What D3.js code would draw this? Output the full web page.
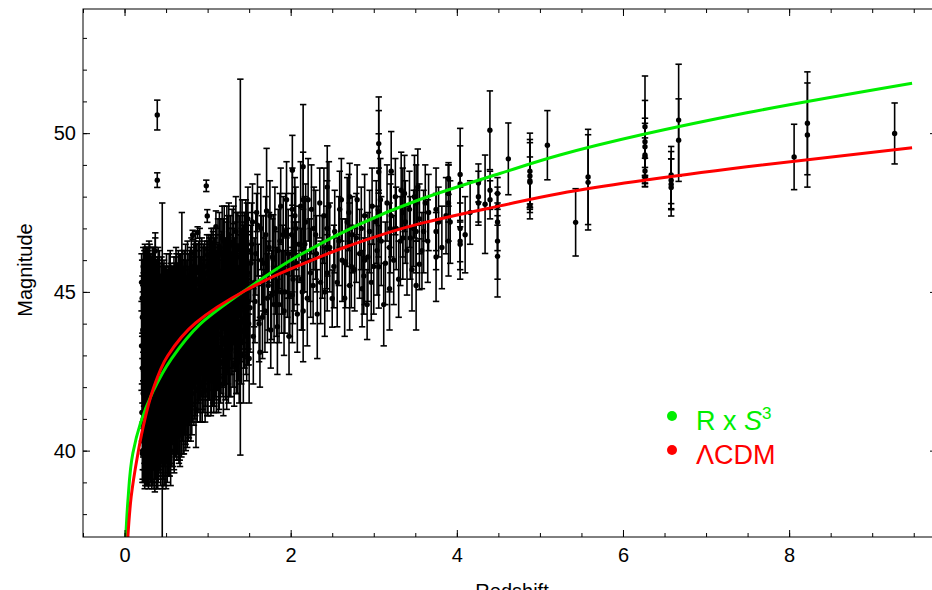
<!DOCTYPE html>
<html>
<head>
<meta charset="utf-8">
<script src="https://cdn.jsdelivr.net/npm/d3@7"></script>
<style>
  body { margin: 0; background: #fff; }
  text { font-family: "Liberation Sans", Arial, sans-serif; }
</style>
</head>
<body>
<div id="chart"></div>
<script>
// Model curves
const greenZ  = [0.015, 0.04, 0.1, 0.19, 0.34, 0.566, 0.904, 1.506, 1.747, 2.108, 3.554, 4.518, 5.24, 7.49, 9.48];
const greenMu = [37.28, 38.4, 39.92, 40.85, 41.85, 42.9, 43.97, 45.15, 45.58, 46.16, 47.91, 48.73, 49.31, 50.64, 51.57];
const redZ  = [0.04, 0.08, 0.157, 0.22, 0.34, 0.518, 0.855, 1.46, 1.747, 2.108, 2.71, 3.554, 4.518, 5.24, 7.49, 9.48];
const redMu = [37.28, 38.55, 39.85, 40.7, 41.9, 42.98, 44.02, 45.05, 45.43, 45.84, 46.46, 47.15, 47.71, 48.1, 48.94, 49.54];

// Axis ticks
const xMajor = [0, 2, 4, 6, 8];
const xMinor = d3.range(-0.5, 9.8, 0.5);
const yMajor = [40, 45, 50];
const yMinor = d3.range(38, 54, 1);

// Legend
const legendLabels = ["R x S", "\u039BCDM"];
const legendColors = ["#00ee00", "#ff0000"];

// Observed points: [redshift, magnitude, error]
const blobData = [
  [0.21,41.2,0.9],[0.215,42.6,1.1],[0.22,40.3,0.9],[0.22,43.8,1.2],[0.225,41.8,1.3],[0.23,39.9,0.9],[0.23,44.6,1.0],[0.235,42.9,1.4],
  [0.24,40.8,1.2],[0.24,45.2,0.8],[0.245,43.5,1.1],[0.25,41.5,1.5],[0.25,39.6,0.7],[0.255,44.1,1.3],[0.26,42.2,1.6],[0.26,45.9,0.5],
  [0.265,40.6,1.3],[0.27,43.1,1.2],[0.27,45.92,0.34],[0.275,41.0,1.4],[0.28,44.4,1.5],[0.28,39.8,0.9],[0.285,42.5,1.1],[0.29,45.6,0.7],
  [0.29,40.9,1.5],[0.295,43.7,1.2],[0.30,41.9,1.3],[0.30,44.9,1.0],
  [0.305,39.7,0.8],[0.31,42.8,1.5],[0.315,45.3,0.9],[0.32,40.4,1.4],[0.32,44.0,1.2],[0.325,41.6,1.6],[0.33,43.3,1.1],[0.335,45.8,0.6],
  [0.34,39.9,1.0],[0.34,42.1,1.3],[0.345,44.6,1.4],[0.35,40.9,1.5],[0.355,43.8,1.2],[0.36,41.4,1.1],[0.36,45.4,1.0],[0.365,39.6,0.9],
  [0.37,42.6,1.6],[0.37,46.29,0.57],[0.37,45.97,0.73],[0.375,44.3,1.3],[0.38,40.8,1.4],[0.385,43.0,1.2],[0.39,41.9,1.5],
  [0.394,50.57,0.47],[0.394,48.52,0.23],[0.395,45.0,1.1],
  [0.40,39.8,1.0],[0.40,43.6,1.4],[0.405,42.3,1.2],[0.41,44.8,1.2],[0.415,40.6,1.3],[0.42,41.7,1.5],[0.42,45.5,0.8],[0.425,43.2,1.3],
  [0.43,40.2,1.1],[0.435,44.1,1.4],[0.44,42.0,1.6],[0.445,45.2,0.9],[0.45,41.1,1.5],[0.454,42.3,5.5],
  [0.455,43.5,1.3],[0.46,39.9,1.1],[0.465,44.7,1.2],[0.47,42.4,1.5],[0.475,40.8,1.3],[0.48,45.0,0.8],[0.485,43.0,1.4],[0.49,41.5,1.6],
  [0.495,44.2,1.2],[0.50,39.7,0.9],[0.50,42.8,1.3],[0.505,45.1,1.1],[0.51,41.0,1.4],[0.515,43.9,1.5],[0.52,42.1,1.2],[0.525,45.0,0.8],
  [0.53,40.4,1.2],[0.535,44.5,1.3],[0.54,43.1,1.6],[0.545,41.6,1.4],[0.55,45.3,1.0],[0.555,40.0,1.1],[0.56,42.7,1.5],[0.565,44.0,1.4],
  [0.57,41.2,1.3],[0.575,45.2,0.6],[0.58,43.4,1.2],[0.585,40.7,1.2],[0.59,42.2,1.4],[0.595,44.8,1.3],[0.60,41.8,1.5],
  [0.61,43.7,1.3],[0.615,40.9,1.1],[0.62,45.4,1.0],[0.625,42.5,1.4],[0.63,44.3,1.2],[0.64,41.4,1.5],[0.645,45.3,0.6],[0.65,43.0,1.4],
  [0.655,40.6,1.0],[0.66,44.9,1.3],[0.67,42.1,1.5],[0.675,45.0,0.8],[0.68,43.6,1.2],[0.69,41.2,1.3],[0.69,44.3,1.7],[0.69,45.2,2.3],
  [0.70,42.8,1.4],[0.705,45.3,0.7],[0.71,40.9,1.0],[0.715,43.9,1.3],[0.72,45.1,1.2],[0.73,42.3,1.5],[0.735,44.6,1.1],[0.74,41.7,1.2],
  [0.745,43.3,1.3],[0.75,45.2,0.8],[0.76,42.9,1.4],[0.765,44.2,1.2],[0.77,41.4,1.1],[0.78,43.8,1.5],[0.785,45.3,1.0],[0.79,42.4,1.2],
  [0.80,44.7,1.3],
  [0.212,44.8,1.2],[0.218,40.0,0.9],[0.228,42.2,1.5],[0.238,45.6,0.7],[0.243,39.4,0.6],[0.248,43.0,1.6],[0.258,40.9,1.1],[0.263,44.9,1.3],
  [0.268,41.9,1.4],[0.278,43.6,1.6],[0.283,46.0,0.4],[0.288,39.5,0.7],[0.298,42.9,1.5],[0.303,45.5,1.0],[0.308,41.2,1.4],[0.318,43.6,1.5],
  [0.328,39.6,0.8],[0.333,44.9,1.3],[0.338,41.0,1.5],[0.348,43.2,1.6],[0.353,45.3,0.6],[0.358,40.2,1.2],[0.368,44.0,1.4],[0.378,41.8,1.6],
  [0.383,45.2,0.8],[0.388,39.7,0.9],[0.398,42.7,1.5],[0.408,40.4,1.2],[0.418,43.9,1.6],[0.428,42.6,1.4],[0.438,40.9,1.4],[0.443,45.2,0.6],
  [0.448,43.0,1.5],[0.458,41.6,1.6],[0.468,40.3,1.2],[0.478,44.0,1.5],[0.488,39.8,0.9],[0.493,45.0,0.8],[0.498,41.9,1.6],[0.508,43.4,1.5],
  [0.518,40.5,1.2],[0.528,42.6,1.6],[0.538,45.0,1.2],[0.548,41.0,1.4],[0.558,43.6,1.6],[0.568,45.0,0.8],[0.578,42.0,1.5],[0.588,44.4,1.4],
  [0.598,40.4,1.1],[0.608,42.9,1.6],[0.618,44.8,1.3],[0.628,41.3,1.4],[0.638,43.4,1.5],[0.648,45.2,1.1],[0.658,42.3,1.6],[0.668,40.5,1.0],
  [0.678,44.3,1.4],[0.688,42.6,1.5],[0.698,45.1,1.2],[0.708,41.9,1.3],[0.718,43.2,1.6],[0.728,44.9,1.3],[0.738,40.9,0.9],[0.748,42.8,1.5],
  [0.758,45.4,1.2],[0.768,43.6,1.5],[0.778,42.0,1.2],[0.788,44.9,1.3],[0.798,41.5,1.2],
  [0.205,43.3,1.4],[0.205,45.3,0.9],[0.215,39.9,0.9],[0.215,44.2,1.3],[0.225,45.8,0.6],[0.225,41.0,1.2],[0.235,40.4,1.0],[0.235,44.0,1.5],
  [0.245,42.0,1.4],[0.245,46.0,0.5],[0.255,40.1,1.1],[0.255,45.4,1.0],[0.265,43.6,1.5],[0.265,39.7,0.8],[0.275,42.8,1.6],[0.275,45.7,0.7],
  [0.285,41.4,1.4],[0.285,44.9,1.2],[0.295,40.2,1.1],[0.295,46.1,0.5],[0.305,43.0,1.6],[0.305,41.6,1.3],[0.315,40.0,1.0],[0.315,42.4,1.5],
  [0.325,44.4,1.4],[0.325,45.6,0.5],[0.335,40.7,1.3],[0.335,43.0,1.5],[0.345,41.4,1.6],[0.345,45.5,0.9],[0.355,39.8,1.0],[0.355,42.6,1.6],
  [0.365,44.9,1.2],[0.365,43.5,1.5],[0.375,40.3,1.2],[0.375,45.4,0.6],[0.385,41.2,1.5],[0.385,44.5,1.4],[0.395,40.7,1.3],[0.395,43.1,1.6],
  [0.405,45.4,1.0],[0.405,39.9,0.9],[0.415,42.9,1.5],[0.415,44.2,1.3],[0.425,40.8,1.4],[0.425,45.3,0.6],[0.435,42.4,1.6],[0.435,39.9,1.0],
  [0.445,41.5,1.4],[0.445,43.8,1.5],[0.455,40.4,1.2],[0.455,45.0,0.8],[0.465,42.0,1.6],[0.465,43.2,1.4],[0.475,44.6,1.4],[0.475,39.8,0.9],
  [0.485,41.3,1.5],[0.485,45.2,0.6],[0.495,40.4,1.2],[0.495,43.1,1.6],[0.505,41.9,1.5],[0.505,44.0,1.4],[0.515,40.0,1.0],[0.515,45.0,0.7],
  [0.525,42.1,1.6],[0.525,44.3,1.3],[0.535,41.1,1.4],[0.535,43.0,1.5],[0.545,40.3,1.1],[0.545,45.1,0.7],[0.555,42.3,1.6],[0.555,44.6,1.3],
  [0.565,40.7,1.2],[0.565,43.3,1.5],[0.575,41.7,1.5],[0.575,44.1,1.4],[0.585,42.8,1.6],[0.585,44.9,0.9],[0.595,40.6,1.2],[0.595,43.5,1.5],
  [0.605,41.3,1.4],[0.605,45.1,0.8],[0.615,42.4,1.6],[0.615,43.9,1.4],[0.625,40.8,1.1],[0.625,45.0,1.2],[0.635,41.9,1.5],[0.635,44.6,1.3],
  [0.645,40.9,1.2],[0.645,43.0,1.6],[0.655,42.0,1.5],[0.655,45.0,0.8],[0.665,41.1,1.4],[0.665,43.8,1.5],[0.675,42.4,1.6],[0.675,44.9,1.3],
  [0.685,40.7,0.9],[0.685,45.3,0.7],[0.695,41.7,1.4],[0.695,43.7,1.5],[0.705,42.7,1.6],[0.705,44.4,1.3],[0.715,41.2,1.3],[0.715,45.0,0.8],
  [0.725,42.0,1.5],[0.725,43.6,1.6],[0.735,41.4,1.2],[0.735,45.4,1.1],[0.745,42.4,1.5],[0.745,44.1,1.4],[0.755,41.2,1.1],[0.755,43.1,1.6],
  [0.765,42.7,1.5],[0.765,45.4,0.8],[0.775,41.7,1.3],[0.775,44.4,1.4],[0.785,42.3,1.4],[0.785,43.5,1.6],[0.795,43.9,1.5],[0.795,45.5,0.9]
];

const innerData = [
  [0.81,41.8,1.3],[0.82,46.79,0.15],[0.825,43.2,1.2],[0.83,45.0,1.1],[0.84,46.2,0.4],[0.845,42.5,1.5],[0.85,44.1,1.3],[0.86,41.3,1.2],
  [0.87,43.6,1.4],[0.88,46.87,0.18],[0.885,45.4,1.1],[0.89,42.8,1.3],[0.90,44.5,1.2],[0.91,42.0,1.1],[0.92,43.9,1.5],[0.93,45.7,1.0],
  [0.94,42.6,1.3],[0.95,44.8,1.2],[0.96,43.3,1.4],[0.97,41.9,1.0],[0.98,45.2,1.2],[0.984,48.34,0.18],[0.996,47.39,0.2],[0.99,44.0,1.4],
  [1.0,46.16,0.16],[1.01,42.9,1.3],[1.02,45.6,1.1],[1.03,43.8,1.5],[1.04,42.2,1.1],[1.05,44.9,1.3],[1.06,43.4,1.2],[1.07,46.0,1.0],
  [1.08,42.7,1.3],[1.09,44.4,1.4],[1.10,47.05,0.5],[1.10,43.1,1.5],
  [0.815,44.3,1.4],[0.835,42.0,1.2],[0.855,45.7,1.2],[0.875,42.7,1.4],[0.895,44.9,1.4],[0.915,43.3,1.5],[0.935,41.8,0.9],[0.955,45.5,1.0],
  [0.975,43.6,1.5],[0.995,42.4,1.3],[1.015,44.6,1.4],[1.035,45.8,1.0],[1.055,42.6,1.2],[1.075,44.7,1.5],[1.095,45.6,1.2],[1.115,43.7,1.4],
  [1.12,45.3,1.2],[1.13,42.6,1.4],[1.14,42.3,1.0],[1.15,44.0,1.3],[1.16,46.2,1.1],[1.17,44.8,1.5],[1.18,43.5,1.5],[1.19,42.1,1.0],
  [1.20,46.6,1.1],[1.21,45.0,1.4],[1.22,43.8,1.2],[1.23,42.5,1.2],[1.24,46.4,1.0],[1.25,42.9,1.4],[1.26,45.5,1.3],[1.27,44.6,1.3],
  [1.28,43.2,1.5],[1.29,44.0,1.4],[1.30,45.8,1.2],[1.31,46.2,0.95],[1.32,42.7,1.3],[1.33,44.2,1.4],[1.34,46.9,1.1],[1.35,45.2,1.3],
  [1.36,43.4,1.6],[1.38,42.8,1.3],[1.394,45.78,5.92],[1.40,44.8,1.3],[1.41,45.8,1.2],[1.42,46.5,1.0],[1.43,43.0,1.5],[1.44,44.6,1.5],
  [1.45,45.4,1.3],[1.46,46.8,1.1],[1.47,43.6,1.4],[1.48,44.1,1.4],[1.49,46.3,1.2],[1.50,42.9,1.4],
  [0.805,43.0,1.5],[0.805,45.6,1.1],[0.815,42.2,1.3],[0.825,44.6,1.5],[0.835,45.8,0.7],[0.835,43.6,1.5],[0.845,45.0,1.3],[0.855,42.9,1.4],
  [0.865,44.3,1.5],[0.865,45.7,0.8],[0.875,41.9,1.0],[0.885,43.5,1.6],[0.895,42.6,1.4],[0.905,45.8,1.2],[0.905,43.7,1.5],[0.915,42.1,1.2],
  [0.925,44.4,1.5],[0.925,45.6,0.9],[0.935,43.2,1.6],[0.945,45.1,1.3],[0.955,42.5,1.3],[0.965,44.5,1.5],[0.965,45.8,0.8],[0.975,42.8,1.4],
  [0.985,43.8,1.6],[0.995,45.3,1.3],[1.005,42.3,1.2],[1.005,44.3,1.5],[1.015,45.9,0.9],[1.025,43.2,1.6],[1.035,44.1,1.5],[1.045,45.8,1.2],
  [1.045,42.5,1.3],[1.055,44.6,1.5],[1.065,43.0,1.5],[1.065,46.0,0.9],[1.075,42.4,1.2],[1.085,45.4,1.3],[1.095,43.5,1.6],[1.105,44.9,1.4],
  [1.105,42.3,1.1],[1.125,46.1,1.2],[1.135,43.9,1.5],[1.145,45.5,1.3],[1.155,42.8,1.3],[1.165,44.5,1.5],[1.175,46.7,1.0],[1.185,43.1,1.4],
  [1.195,45.2,1.4],[1.205,44.2,1.5],[1.215,42.9,1.3],[1.225,46.0,1.2],[1.235,44.9,1.5],[1.245,43.5,1.4],[1.255,46.8,1.0],[1.265,43.0,1.3],
  [1.275,45.7,1.3],[1.285,44.5,1.6],[1.295,46.5,1.1],[1.305,43.4,1.4],[1.315,45.0,1.5],[1.325,44.0,1.3],[1.335,46.0,1.2],[1.345,43.1,1.3],
  [1.355,44.7,1.6],[1.365,46.4,1.1],[1.375,44.3,1.4],[1.385,45.5,1.3],[1.405,43.4,1.3],[1.415,46.8,1.1],[1.425,44.9,1.5],[1.435,45.8,1.3],
  [1.445,43.8,1.2],[1.455,46.2,1.2],[1.465,44.4,1.5],[1.475,45.4,1.4],[1.485,47.3,1.0],[1.495,44.0,1.3],
  [0.802,44.0,1.4],[0.812,45.1,1.2],[0.822,42.7,1.3],[0.842,43.9,1.5],[0.852,42.2,1.1],[0.862,45.3,1.2],[0.872,44.0,1.4],[0.882,43.0,1.5],
  [0.892,45.6,1.0],[0.902,42.9,1.3],[0.912,44.7,1.4],[0.922,43.5,1.5],[0.932,44.8,1.3],[0.942,43.9,1.4],[0.952,42.9,1.2],[0.962,45.2,1.2],
  [0.972,44.1,1.5],[0.982,43.0,1.3],[0.992,45.6,1.2],[1.002,43.7,1.4],[1.012,42.8,1.2],[1.022,44.7,1.5],[1.032,45.3,1.2],[1.042,43.4,1.5],
  [1.052,44.2,1.3],[1.062,45.5,1.1],[1.072,43.9,1.5],[1.082,44.8,1.3],[1.092,42.9,1.2],[1.102,45.9,1.1],[1.112,44.4,1.5],[1.122,43.2,1.3],
  [1.132,45.0,1.4],[1.142,46.4,1.1],[1.152,44.1,1.5],[1.162,43.0,1.2],[1.172,45.6,1.3],[1.182,44.6,1.4],[1.192,46.1,1.2],[1.202,43.4,1.3],
  [1.212,45.3,1.4],[1.222,44.4,1.5],[1.232,46.6,1.1],[1.242,44.0,1.4],[1.252,45.1,1.3],[1.262,43.7,1.3],[1.272,46.2,1.2],[1.282,45.0,1.5],
  [1.292,43.6,1.2],[1.302,44.8,1.4],[1.312,46.6,1.1],[1.322,45.4,1.3],[1.332,43.8,1.3],[1.342,45.0,1.5],[1.352,46.3,1.2],[1.362,44.9,1.3],
  [1.372,43.6,1.4],[1.382,46.1,1.3],[1.392,44.4,1.4],[1.402,45.4,1.4],[1.412,44.1,1.3],[1.422,45.9,1.3],[1.432,44.6,1.4],[1.442,46.3,1.2],
  [1.452,45.1,1.4],[1.462,43.7,1.3],[1.472,46.6,1.2],[1.482,45.6,1.3],[1.492,44.7,1.5],
  [1.52,45.9,1.2],[1.54,47.2,1.2],[1.55,43.6,1.5],[1.57,44.7,1.3],[1.59,47.5,0.6],[1.60,47.1,1.6],[1.61,45.3,1.2],[1.63,43.1,1.1],
  [1.65,46.0,1.4],[1.66,44.2,1.3],[1.68,45.5,1.2],[1.71,47.55,1.97],[1.72,44.8,1.4],[1.74,46.4,1.1],[1.76,43.8,1.2],[1.79,46.03,1.4],
  [1.80,44.6,1.2],[1.82,45.6,1.3],[1.84,43.9,1.5],[1.87,46.6,1.5],[1.89,45.0,1.3],[1.92,44.4,1.4],[1.94,46.9,1.2],[1.96,45.6,1.4],
  [1.98,43.6,1.2],
  [1.51,44.5,1.4],[1.53,46.5,1.3],[1.56,45.3,1.4],[1.58,46.2,1.3],[1.62,44.0,1.2],[1.64,47.0,1.3],[1.67,45.9,1.5],[1.69,44.4,1.3],
  [1.70,46.8,1.2],[1.73,45.2,1.4],[1.75,47.4,1.1],[1.77,44.9,1.4],[1.78,46.1,1.2],[1.81,47.0,1.3],[1.83,45.0,1.4],[1.85,46.3,1.3],
  [1.86,44.6,1.2],[1.88,47.7,1.2],[1.90,45.7,1.4],[1.91,46.8,1.2],[1.93,45.0,1.3],[1.95,47.9,1.2],[1.97,46.2,1.4],[1.99,44.9,1.3]
];

const outerData = [
  [2.02,48.83,1.1],[2.02,47.6,1.3],[2.02,46.2,1.2],[2.02,44.9,1.5],[2.04,45.8,1.4],[2.06,47.0,1.3],[2.08,44.3,1.2],[2.10,46.5,1.2],
  [2.13,45.4,1.6],[2.15,48.94,1.96],[2.15,47.9,1.5],[2.15,46.3,1.3],[2.15,44.4,1.6],[2.18,47.2,1.2],[2.20,44.8,1.5],[2.23,46.0,1.3],
  [2.25,47.6,1.4],[2.27,45.2,1.2],[2.30,46.8,1.4],[2.32,44.3,1.4],[2.35,47.8,1.1],[2.38,46.1,1.3],[2.41,45.0,1.4],[2.44,48.3,1.3],
  [2.44,47.0,1.5],[2.44,45.6,1.2],[2.47,46.4,1.4],[2.50,44.79,0.9],
  [2.53,46.9,1.3],[2.56,45.3,1.4],[2.59,47.6,1.2],[2.62,46.0,1.3],[2.65,44.8,1.2],[2.68,47.2,1.4],[2.71,48.0,1.05],[2.71,46.5,1.3],
  [2.71,45.2,1.4],[2.74,46.8,1.2],[2.77,45.7,1.3],[2.80,47.9,1.1],[2.83,46.2,1.4],[2.86,45.1,1.2],[2.89,47.4,1.3],[2.89,46.0,1.4],
  [2.92,44.6,1.1],[2.95,46.9,1.3],[2.98,47.7,1.2],
  [3.0,45.8,1.5],[3.03,47.2,1.3],[3.06,49.67,1.47],[3.06,49.41,1.3],[3.06,48.78,1.2],[3.06,47.5,1.4],[3.06,45.79,1.3],[3.09,46.6,1.4],
  [3.12,44.6,1.3],[3.16,47.8,1.2],[3.19,46.4,1.4],[3.19,45.1,1.3],[3.21,48.8,1.25],[3.21,47.4,1.3],[3.24,46.0,1.4],[3.27,47.0,1.3],
  [3.30,45.4,1.2],[3.33,48.2,1.2],[3.35,47.5,1.4],[3.35,46.7,1.3],[3.37,48.1,1.2],[3.40,46.3,1.4],[3.43,47.6,1.2],[3.46,45.7,1.3],
  [3.49,48.0,1.3],[3.51,47.8,1.2],[3.51,46.9,1.3],[3.51,45.2,1.4],[3.55,45.87,0.8],[3.55,47.3,1.1],[3.58,46.3,1.2],[3.62,47.8,1.2],
  [3.65,46.6,1.3],
  [2.01,46.8,1.3],[2.03,45.4,1.4],[2.05,47.4,1.2],[2.07,45.9,1.3],[2.12,47.7,1.4],[2.14,45.0,1.2],[2.17,46.5,1.5],[2.21,47.9,1.3],
  [2.24,45.6,1.4],[2.28,47.0,1.3],[2.31,46.2,1.2],[2.36,45.3,1.3],[2.40,47.4,1.5],[2.43,46.4,1.3],[2.46,47.7,1.4],[2.52,45.8,1.3],
  [2.58,46.6,1.4],[2.61,47.9,1.3],[2.66,45.9,1.4],[2.70,47.5,1.2],[2.73,45.8,1.3],[2.79,46.7,1.4],[2.85,47.0,1.3],[2.88,45.5,1.2],
  [2.93,46.1,1.4],[2.97,45.3,1.2],[3.04,46.3,1.4],[3.08,47.9,1.3],[3.14,45.9,1.3],[3.20,47.0,1.4],[3.26,48.0,1.2],[3.32,46.6,1.4],
  [3.38,47.2,1.3],[3.44,46.7,1.3],[3.48,47.0,1.2],[3.53,48.3,1.2],[3.60,46.9,1.3],[3.66,47.5,1.2],
  [3.75,47.6,1.3],[3.75,46.9,1.2],[3.75,46.1,1.4],[3.78,47.2,1.1],[3.82,46.4,1.3],[3.87,47.4,1.2],[3.90,48.57,0.5],[3.90,48.1,0.9],
  [3.90,47.8,1.2],[3.90,46.6,1.1],[3.92,47.2,1.3],[4.04,48.7,1.45],[4.04,48.4,1.2],[4.04,47.0,1.3],[4.04,46.6,1.2],[4.04,46.5,0.55],
  [4.10,46.8,1.2],[4.16,47.5,1.0],[4.26,48.43,0.6],[4.26,48.0,0.8],[4.26,47.8,0.7],[4.34,47.76,1.55],[4.398,50.09,1.24],[4.40,48.2,0.6],
  [4.40,47.9,0.6],[4.49,48.1,0.5],[4.49,47.7,0.6],[4.49,47.2,0.9],[4.49,46.6,1.2],[4.49,46.12,1.28]
];

const farData = [
  [4.62,49.19,1.13],[4.88,48.8,1.2],[4.88,48.65,1.15],[4.88,48.5,1.2],[4.88,48.45,0.8],[4.88,47.72,0.05],[5.09,49.62,1.09],
  [5.43,47.19,1.06],[5.58,48.62,1.5],[5.58,48.45,1.5],
  [6.265,50.2,1.6],[6.265,49.73,1.3],[6.265,49.57,0.9],[6.265,49.31,1.0],[6.265,49.25,0.6],[6.265,48.81,0.4],[6.265,48.62,0.3],
  [6.58,48.68,0.9],[6.58,48.52,0.9],[6.58,48.39,0.8],[6.58,48.29,0.9],[6.67,50.41,1.76],[6.67,49.78,1.3],
  [8.06,49.25,1.03],[8.22,50.31,1.62],[8.22,49.94,1.64],[9.27,49.99,0.96]
];

const allData = blobData.concat(innerData, outerData, farData);

const width = 932;
const height = 590;
const frame = { left: 83, right: 937, top: 9, bottom: 537 };

const svg = d3.select("#chart")
  .append("svg")
  .attr("width", width)
  .attr("height", height);

const x = d3.scaleLinear().domain([-0.5, 9.78]).range([frame.left, frame.right]);
const y = d3.scaleLinear().domain([37.28, 53.91]).range([frame.bottom, frame.top]);

svg.append("clipPath").attr("id", "plot")
  .append("rect")
  .attr("x", frame.left).attr("y", frame.top)
  .attr("width", frame.right - frame.left)
  .attr("height", frame.bottom - frame.top);

const plot = svg.append("g").attr("clip-path", "url(#plot)");

// Error bars
const bars = plot.append("g")
  .attr("stroke", "#000")
  .attr("stroke-width", 1.6);

bars.selectAll(".err")
  .data(allData)
  .enter()
  .append("line")
  .attr("x1", d => x(d[0])).attr("x2", d => x(d[0]))
  .attr("y1", d => y(d[1] - d[2])).attr("y2", d => y(d[1] + d[2]));

["lo", "hi"].forEach((k, j) => {
  bars.selectAll(".cap-" + k)
    .data(allData)
    .enter()
    .append("line")
    .attr("x1", d => x(d[0]) - 3.2).attr("x2", d => x(d[0]) + 3.2)
    .attr("y1", d => y(d[1] + (j ? d[2] : -d[2])))
    .attr("y2", d => y(d[1] + (j ? d[2] : -d[2])));
});

plot.append("g").selectAll("circle")
  .data(allData)
  .enter()
  .append("circle")
  .attr("cx", d => x(d[0]))
  .attr("cy", d => y(d[1]))
  .attr("r", 2.7)
  .attr("fill", "#000");

// Model curves: magnitude rises monotonically, so interpolate along screen y
const line = d3.line()
  .x(d => x(d[0]))
  .y(d => y(d[1]))
  .curve(d3.curveMonotoneY);

plot.append("path")
  .datum(greenZ.map((z, i) => [z, greenMu[i]]).reverse())
  .attr("fill", "none")
  .attr("stroke", legendColors[0])
  .attr("stroke-width", 3)
  .attr("d", line);

plot.append("path")
  .datum(redZ.map((z, i) => [z, redMu[i]]).reverse())
  .attr("fill", "none")
  .attr("stroke", legendColors[1])
  .attr("stroke-width", 3)
  .attr("d", line);

// Frame and ticks (ticks point inwards)
function styleAxis(g) {
  g.select(".domain").remove();
  g.selectAll("line").attr("stroke", "#000").attr("stroke-width", 1);
  g.selectAll("text").attr("font-size", 20).attr("fill", "#000")
    .attr("font-family", "'Liberation Sans', Arial, sans-serif");
}

svg.append("g").attr("transform", `translate(0,${frame.bottom})`)
  .call(d3.axisBottom(x).tickValues(xMinor).tickSize(-4).tickFormat("")).call(styleAxis);
svg.append("g").attr("transform", `translate(0,${frame.bottom})`)
  .call(d3.axisBottom(x).tickValues(xMajor).tickSize(-7).tickPadding(11).tickFormat(d3.format("d"))).call(styleAxis);
svg.append("g").attr("transform", `translate(0,${frame.top})`)
  .call(d3.axisTop(x).tickValues(xMinor).tickSize(-4).tickFormat("")).call(styleAxis);
svg.append("g").attr("transform", `translate(0,${frame.top})`)
  .call(d3.axisTop(x).tickValues(xMajor).tickSize(-7).tickFormat("")).call(styleAxis);

svg.append("g").attr("transform", `translate(${frame.left},0)`)
  .call(d3.axisLeft(y).tickValues(yMinor).tickSize(-4).tickFormat("")).call(styleAxis);
svg.append("g").attr("transform", `translate(${frame.left},0)`)
  .call(d3.axisLeft(y).tickValues(yMajor).tickSize(-7).tickPadding(7).tickFormat(d3.format("d"))).call(styleAxis);
svg.append("g").attr("transform", `translate(${frame.right},0)`)
  .call(d3.axisRight(y).tickValues(yMinor).tickSize(-4).tickFormat("")).call(styleAxis);
svg.append("g").attr("transform", `translate(${frame.right},0)`)
  .call(d3.axisRight(y).tickValues(yMajor).tickSize(-7).tickFormat("")).call(styleAxis);

svg.append("rect")
  .attr("x", frame.left).attr("y", frame.top)
  .attr("width", frame.right - frame.left)
  .attr("height", frame.bottom - frame.top)
  .attr("fill", "none")
  .attr("stroke", "#000")
  .attr("stroke-width", 1);

// Axis titles (x title sits partly below the window, as in the original)
svg.append("text")
  .attr("transform", `translate(32,270) rotate(-90)`)
  .attr("text-anchor", "middle")
  .attr("font-size", 20)
  .text("Magnitude");

svg.append("text")
  .attr("x", 512)
  .attr("y", 598)
  .attr("text-anchor", "middle")
  .attr("font-size", 20)
  .text("Redshift");

// Legend
const legend = svg.append("g").attr("transform", "translate(672,416)");
legendLabels.forEach((label, i) => {
  const row = legend.append("g").attr("transform", `translate(0,${i * 34})`);
  row.append("circle").attr("r", 5).attr("fill", legendColors[i]);
  const t = row.append("text")
    .attr("x", 24)
    .attr("y", 14)
    .attr("font-size", 27)
    .attr("fill", legendColors[i]);
  if (i === 0) {
    t.append("tspan").text("R x ");
    t.append("tspan").attr("font-style", "italic").text("S");
    t.append("tspan").attr("font-size", 17).attr("dy", -11).text("3");
  } else {
    t.text(label);
  }
});
</script>
</body>
</html>
